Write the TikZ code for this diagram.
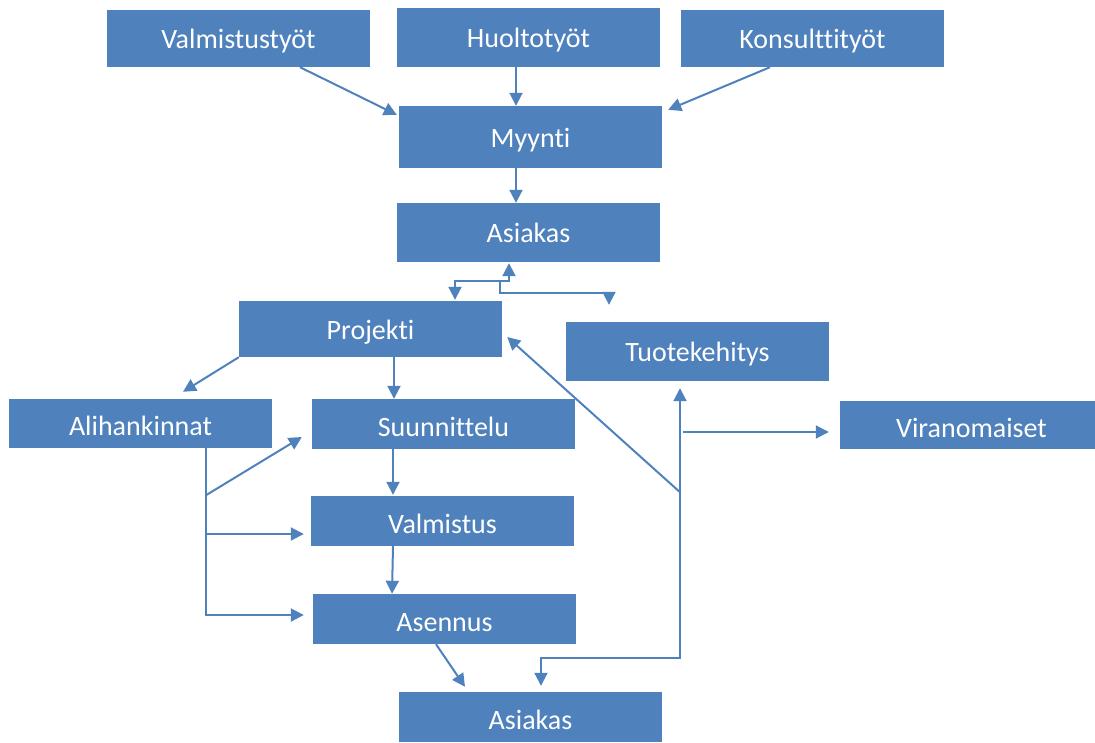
\documentclass[tikz,border=0pt]{standalone}
\usepackage{fontspec}
\setmainfont{Carlito}[Ligatures=NoCommon]
\usetikzlibrary{arrows.meta,calc}
\definecolor{obl}{HTML}{4F81BD}
\tikzset{
  box/.style={fill=obl,draw=none,text=white,inner sep=0pt,minimum width=263pt,
    text height=22pt,text depth=2pt,font=\fontsize{28}{32}\selectfont},
  lowbox/.style={box,text height=26pt},
  conn/.style={draw=obl,line width=2pt,-{Triangle[length=13pt,width=13pt]}},
  conn2/.style={draw=obl,line width=2pt,{Triangle[length=13pt,width=13pt]}-{Triangle[length=13pt,width=13pt]}}
}
\begin{document}
\begin{tikzpicture}[x=1pt,y=-1pt]
\clip (0,0) rectangle (1095,742);
\node[box,minimum height=57pt] (vt) at (238.5,38.5) {Valmistustyöt};
\node[box,minimum height=59pt] (ht) at (528.5,37.5) {Huoltotyöt};
\node[box,minimum height=57pt] (kt) at (812.5,38.5) {Konsulttityöt};
\node[box,minimum height=62pt] (my) at (530.5,137) {Myynti};
\node[box,minimum height=59pt] (as1) at (528.5,232.5) {Asiakas};
\node[box,minimum height=56pt] (pr) at (370.5,329) {Projekti};
\node[box,minimum height=59pt] (tk) at (697.5,351.5) {Tuotekehitys};
\node[lowbox,minimum height=49pt] (al) at (140.5,423.5) {Alihankinnat};
\node[lowbox,minimum height=50pt] (su) at (443.5,424) {Suunnittelu};
\node[lowbox,minimum height=48pt] (vi) at (971.5,425) {Viranomaiset};
\node[lowbox,minimum height=50pt] (va) at (442.5,521) {Valmistus};
\node[lowbox,minimum height=50pt] (as) at (444.5,619) {Asennus};
\node[lowbox,minimum height=50pt] (as2) at (530.5,717) {Asiakas};
% top
\draw[conn] ([xshift=61.5pt]vt.south) -- ([xshift=-2pt,yshift=-9pt]my.north west);
\draw[conn] ([xshift=-12.5pt]ht.south) -- ([xshift=-14.5pt]my.north);
\draw[conn] ([xshift=-42.5pt]kt.south) -- ([xshift=6pt,yshift=-4pt]my.north east);
\draw[conn] ([xshift=-14.5pt]my.south) -- ([xshift=-12.5pt]as1.north);
% asiakas <-> projekti
\draw[conn2] ([xshift=84.5pt,yshift=1pt]pr.north) -- ++(0,-19) -| ([xshift=-19.5pt,yshift=-1pt]as1.south);
\coordinate (j1) at ($([xshift=-28.5pt]as1.south)+(0,20)$);
\coordinate (e1) at ($([xshift=-88.5pt]tk.north)+(0,-17)$);
\draw[conn] (j1) -- ++(0,11) -| (e1);
% projekti
\draw[conn] (pr.south west) -- ([xshift=42.5pt,yshift=7pt]al.north);
\draw[conn] ([xshift=23.5pt]pr.south) -- ([xshift=-49.5pt]su.north);
\draw[conn] ([xshift=-50.5pt]su.south) -- ([xshift=-49.5pt,yshift=1pt]va.north);
\draw[conn] ([xshift=-49.5pt]va.south) -- ([xshift=-52.5pt]as.north);
\draw[conn] ([xshift=-8.5pt]as.south) -- ([xshift=-65.5pt,yshift=5pt]as2.north);
% alihankinnat tree
\coordinate (ab) at ([xshift=65.5pt]al.south);
\coordinate (t2) at ([xshift=-7pt,yshift=-13pt]va.west);
\draw[conn] (ab) |- ([xshift=-9pt,yshift=4pt]as.west);
\draw[conn] (ab |- t2) -- (t2);
\draw[conn] ([yshift=-47pt]ab) -- ([xshift=-10pt,yshift=-13pt]su.west);
% right side
\coordinate (B) at ([xshift=-17.5pt,yshift=-7pt]tk.south);
\coordinate (t3) at ([xshift=-11pt,yshift=-7pt]vi.west);
\draw[conn2] ([xshift=10.5pt,yshift=6pt]as2.north) -- ++(0,-28) -| (B);
\draw[conn] ([xshift=3pt]B |- t3) -- (t3);
\draw[conn] ([yshift=-104pt]B) -- ([xshift=5pt,yshift=-8pt]pr.east);
\end{tikzpicture}
\end{document}
